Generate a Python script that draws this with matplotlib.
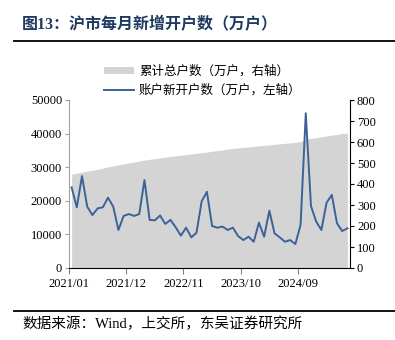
import matplotlib
matplotlib.use("Agg")
import matplotlib.pyplot as plt
from matplotlib.patches import Patch
from matplotlib.lines import Line2D
import numpy as np

plt.rcParams['font.family'] = ['Noto Sans CJK SC', 'DejaVu Sans']

# monthly data, 2021/01 .. 2025/06
tick_labels = ["2021/01", "2021/12", "2022/11", "2023/10", "2024/09"]
tick_idx = [0, 11, 22, 33, 44]

total_accounts = [27900, 28250, 28550, 28850, 29100, 29400, 29750, 30100, 30400, 30700,
                  31000, 31250, 31550, 31850, 32100, 32350, 32550, 32800, 33000, 33200,
                  33400, 33550, 33750, 33950, 34150, 34350, 34500, 34750, 34950, 35150,
                  35400, 35600, 35750, 35900, 36050, 36200, 36350, 36500, 36650, 36800,
                  36950, 37100, 37250, 37400, 37600, 38300, 38550, 38800, 39050, 39300,
                  39550, 39750, 40000, 40200]
new_accounts = [384, 289, 438, 292, 252, 284, 289, 335, 292, 181,
                248, 257, 248, 257, 419, 229, 227, 250, 210, 229,
                194, 154, 192, 146, 168, 318, 363, 200, 192, 197,
                181, 192, 152, 133, 149, 125, 216, 149, 273, 165,
                146, 125, 133, 114, 205, 737, 295, 221, 181, 311,
                348, 213, 176, 189]

W, H = 395, 340
fig = plt.figure(figsize=(W / 100, H / 100), dpi=100)

def fx(px):
    return px / W

def fy(py):
    return 1 - py / H

ax = fig.add_axes([fx(69), fy(268), fx(350) - fx(69), fy(100) - fy(268)])
x = np.arange(len(new_accounts))

area_color = "#d4d4d4"
line_color = "#3c6298"

ax.fill_between(x, 0, total_accounts, color=area_color, linewidth=0)
ax.set_xlim(-0.5, len(x) - 0.5)
ax.set_ylim(0, 50000)
ax.set_yticks(np.arange(0, 50001, 10000))

ax2 = ax.twinx()
ax2.plot(x, new_accounts, color=line_color, linewidth=1.4)
ax2.set_ylim(0, 800)
ax2.set_yticks(np.arange(0, 801, 100))

ax.set_xticks([i - 0.5 for i in tick_idx])
ax.set_xticklabels(tick_labels)

serif = "Liberation Serif"
for a in (ax, ax2):
    a.spines['top'].set_visible(False)
    for lab in a.get_xticklabels() + a.get_yticklabels():
        lab.set_fontfamily(serif)
        lab.set_fontsize(9)
ax.spines['right'].set_visible(False)
ax.spines['left'].set_color("#a0a0a0")
ax.spines['bottom'].set_color("black")
ax2.spines['left'].set_visible(False)
ax2.spines['bottom'].set_visible(False)
ax2.spines['right'].set_color("black")
ax.tick_params(axis='y', direction='out', length=3, color="#a0a0a0", pad=2)
ax.tick_params(axis='x', direction='out', length=4, color="#808080", pad=3)
ax2.tick_params(axis='y', direction='out', length=3, color="black", pad=2)

handles = [Patch(facecolor=area_color, edgecolor='none'),
           Line2D([0], [0], color=line_color, linewidth=1.4)]
labels = ["累计总户数（万户，右轴）", "账户新开户数（万户，左轴）"]
fig.legend(handles, labels, loc='upper left', bbox_to_anchor=(fx(104), fy(65)),
           frameon=False, fontsize=9, handlelength=2.4, handleheight=0.45,
           handletextpad=0.4, borderpad=0, borderaxespad=0, labelspacing=0.45)

# title and footer (latin glyphs in serif, CJK falls through to Noto)
mixed = [serif, 'Noto Sans CJK SC']
fig.text(fx(22), fy(25), "图13：沪市每月新增开户数（万户）", fontsize=11.5,
         color="#1f3a60", fontweight='bold', va='center', ha='left', family=mixed)
fig.add_artist(Line2D([fx(14), 1], [fy(41), fy(41)], color="black", linewidth=1.3))
fig.add_artist(Line2D([fx(14), 1], [fy(311), fy(311)], color="black", linewidth=1.3))
fig.text(fx(22), fy(324), "数据来源：Wind，上交所，东吴证券研究所", fontsize=10.5,
         color="black", va='center', ha='left', family=mixed)

fig.savefig("out.png", dpi=100)
